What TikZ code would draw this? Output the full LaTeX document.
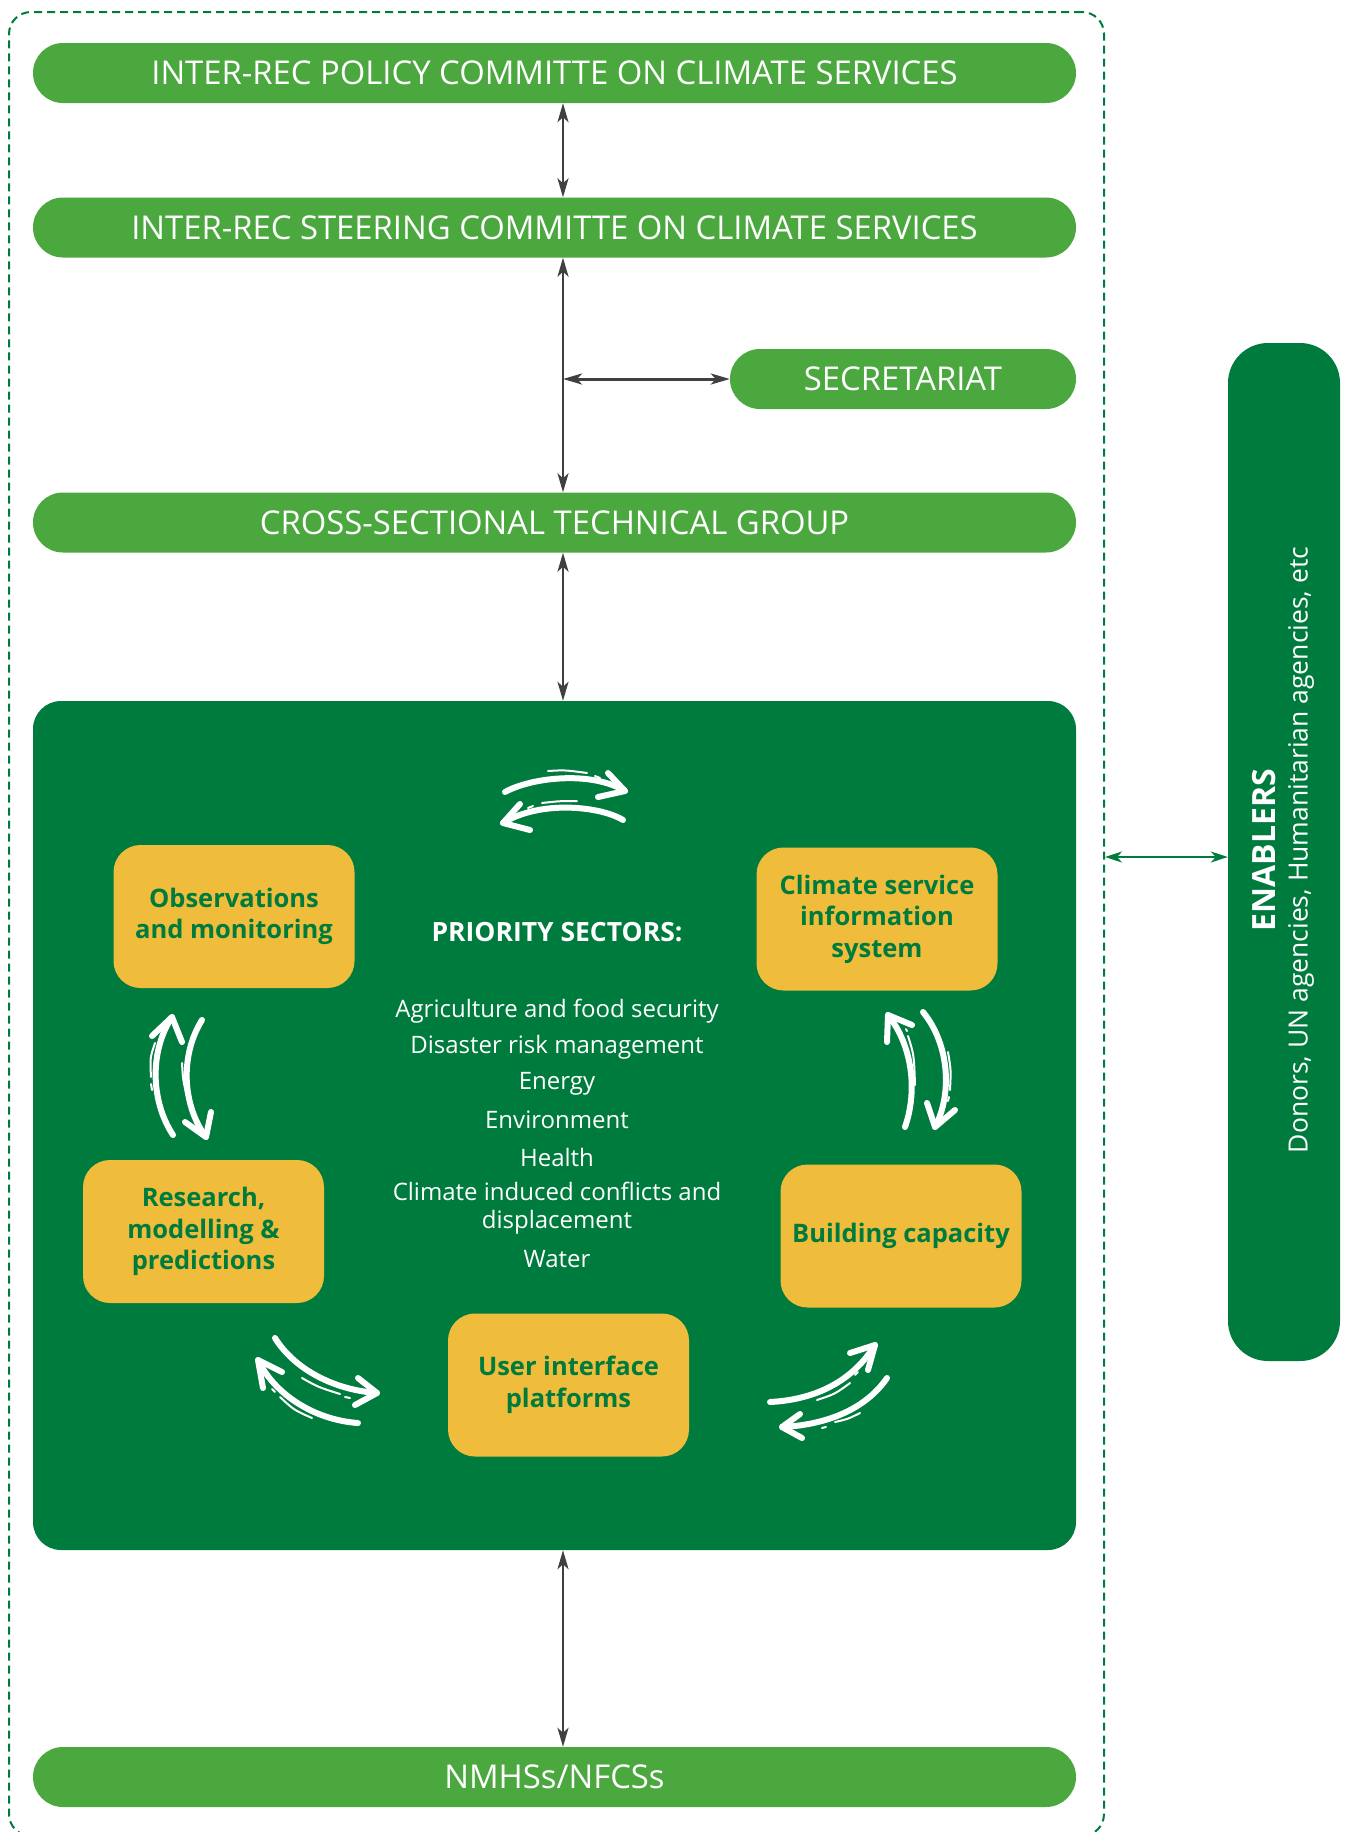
\documentclass[tikz,border=0pt]{standalone}
\usepackage{fontspec}
\setmainfont{Open Sans}
\usetikzlibrary{arrows.meta,calc}

\definecolor{barGreen}{RGB}{75,168,63}
\definecolor{deepGreen}{RGB}{0,123,62}
\definecolor{boxYellow}{RGB}{239,188,60}
\definecolor{linkGray}{RGB}{64,64,64}

\tikzset{
  bar/.style={fill=barGreen, rounded corners=30pt, minimum height=60pt,
    inner sep=0pt, text=white, font=\fontsize{32.8}{38}\selectfont},
  card/.style={fill=boxYellow, rounded corners=27pt, minimum width=241pt,
    minimum height=143pt, inner sep=0pt, text=deepGreen, align=center,
    font=\fontsize{25.5}{31.5}\selectfont\bfseries},
  sector/.style={text=white, inner sep=0pt, align=center,
    font=\fontsize{24}{28}\selectfont},
  link/.style={draw=linkGray, line width=2.4pt,
    {Stealth[length=19pt,width=11pt,inset=5pt]}-{Stealth[length=19pt,width=11pt,inset=5pt]}},
  glink/.style={draw=deepGreen, line width=2pt,
    {Stealth[length=17pt,width=11pt,inset=5pt]}-{Stealth[length=17pt,width=11pt,inset=5pt]}},
  sketch/.style={draw=white, line width=6pt, line cap=round, line join=round},
  sheen/.style={draw=white, line width=2pt, line cap=round},
}

\begin{document}
\begin{tikzpicture}[x=1pt, y=-1pt]
\useasboundingbox (0,0) rectangle (1345,1832);

% dashed outer frame
\node[draw=deepGreen, line width=2pt, dash pattern=on 8pt off 5pt,
  rounded corners=22pt, minimum width=1095pt, minimum height=1824pt,
  inner sep=0pt] (frame) at (556.5,924) {};

% governance bars
\node[bar, minimum width=1043pt] (policy) at (554.5,73) {INTER-REC POLICY COMMITTE ON CLIMATE SERVICES};
\node[bar, minimum width=1043pt] (steer) at (554.5,227.5) {INTER-REC STEERING COMMITTE ON CLIMATE SERVICES};
\node[bar, minimum width=346pt] (secr) at (903,379) {SECRETARIAT};
\node[bar, minimum width=1043pt] (cross) at (554.5,522.5) {CROSS-SECTIONAL TECHNICAL GROUP};
\node[bar, minimum width=1043pt] (nmhs) at (554.5,1777) {NMHSs/NFCSs};

% central block
\node[fill=deepGreen, rounded corners=28pt, minimum width=1043pt,
  minimum height=849pt, inner sep=0pt] (core) at (554.5,1125.5) {};

% enablers column
\node[fill=deepGreen, rounded corners=40pt, minimum width=112pt,
  minimum height=1018pt, inner sep=0pt] (enab) at (1284,852) {};
\node[rotate=90, text=white, font=\fontsize{32}{38}\selectfont\bfseries, inner sep=0pt]
  (enabT) at (1264,850) {ENABLERS};
\node[rotate=90, text=white, font=\fontsize{26.5}{31}\selectfont, inner sep=0pt]
  (enabS) at (1301,850) {Donors, UN agencies, Humanitarian agencies, etc};

% vertical spine
\coordinate (spine) at (563,0);
\coordinate (junction) at (563,379);

\draw[link] (policy.south -| spine) -- (steer.north -| spine);
\draw[link] (steer.south -| spine) -- (cross.north -| spine);
\draw[link, line width=3pt] (junction) -- (secr.west);
\draw[link] (cross.south -| spine) -- (core.north -| spine);
\draw[link] (core.south -| spine) -- (nmhs.north -| spine);
\draw[glink] (frame.east |- 0,857) -- (enab.west |- 0,857);

% cycle cards
\node[card] (obs) at (234,916.5) {Observations\\and monitoring};
\node[card] (csis) at (877,919) {Climate service\\information\\system};
\node[card] (res) at (203.5,1231.5) {Research,\\modelling \&\\predictions};
\node[card] (build) at (901,1236) {Building capacity};
\node[card] (user) at (568.5,1385) {User interface\\platforms};

% priority sectors
\node[text=white, inner sep=0pt, font=\fontsize{26.5}{31}\selectfont\bfseries]
  (ps) at (557,932) {PRIORITY SECTORS:};
\node[sector] (s1) at (557,1011) {Agriculture and food security};
\node[sector] (s2) at (557,1047) {Disaster risk management};
\node[sector] (s3) at (557,1084) {Energy};
\node[sector] (s4) at (557,1120) {Environment};
\node[sector] (s5) at (557,1157) {Health};
\node[sector] (s6) at (557,1208) {Climate induced conflicts and\\displacement};
\node[sector] (s7) at (557,1259) {Water};

% hand-drawn exchange arrows: top
\draw[sketch] (505,792) .. controls (530,778) and (590,770) .. (625,791);
\draw[sketch] (608,773) -- (625,791) -- (598,797);
\draw[sketch] (623,820) .. controls (600,806) and (540,800) .. (503,823);
\draw[sketch] (520,804) -- (503,823) -- (530,830);
\draw[sheen] (548,771) .. controls (565,770) .. (587,773);
\draw[sheen] (595,776) -- (600,778);
\draw[sheen] (542,803) .. controls (560,801) .. (577,801);
\draw[sheen] (528,808) -- (533,806);

% left side
\draw[sketch] (173,1135) .. controls (150,1100) and (150,1050) .. (172,1017);
\draw[sketch] (152,1036) -- (172,1017) -- (182,1042);
\draw[sketch] (202,1020) .. controls (180,1055) and (182,1105) .. (206,1137);
\draw[sketch] (185,1122) -- (206,1137) -- (211,1112);
\draw[sheen] (155,1043) .. controls (150,1058) .. (151,1077);
\draw[sheen] (151,1084) -- (152,1090);
\draw[sheen] (182,1063) .. controls (183,1080) .. (187,1097);
\draw[sheen] (190,1107) -- (192,1113);

% right side
\draw[sketch] (905,1127) .. controls (918,1090) and (912,1045) .. (888,1015);
\draw[sketch] (887,1042) -- (888,1015) -- (912,1025);
\draw[sketch] (923,1012) .. controls (950,1045) and (952,1095) .. (935,1127);
\draw[sketch] (927,1103) -- (935,1127) -- (955,1110);
\draw[sheen] (908,1036) .. controls (914,1055) .. (915,1085);
\draw[sheen] (906,1029) -- (907,1031);
\draw[sheen] (948,1052) .. controls (951,1070) .. (950,1090);
\draw[sheen] (949,1097) -- (948,1101);

% bottom left
\draw[sketch] (275,1338) .. controls (295,1370) and (335,1390) .. (377,1393);
\draw[sketch] (358,1378) -- (377,1393) -- (355,1405);
\draw[sketch] (358,1423) .. controls (315,1420) and (275,1395) .. (258,1360);
\draw[sketch] (282,1372) -- (258,1360) -- (263,1388);
\draw[sheen] (302,1378) .. controls (318,1387) .. (340,1394);
\draw[sheen] (345,1397) -- (350,1398);
\draw[sheen] (272,1389) -- (275,1392);
\draw[sheen] (280,1397) .. controls (294,1410) .. (312,1418);

% bottom right
\draw[sketch] (770,1402) .. controls (810,1400) and (850,1385) .. (875,1345);
\draw[sketch] (850,1353) -- (875,1345) -- (868,1370);
\draw[sketch] (887,1378) .. controls (865,1410) and (825,1425) .. (782,1427);
\draw[sketch] (800,1414) -- (782,1427) -- (802,1438);
\draw[sheen] (817,1400) .. controls (835,1394) .. (850,1383);
\draw[sheen] (855,1375) -- (858,1372);
\draw[sheen] (822,1428) -- (826,1427);
\draw[sheen] (835,1422) .. controls (848,1419) .. (860,1413);
\end{tikzpicture}
\end{document}
